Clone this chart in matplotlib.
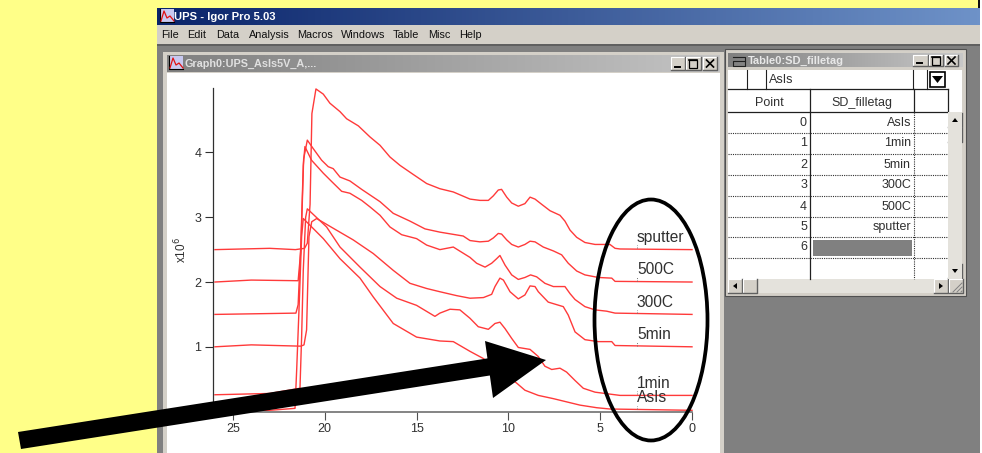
import matplotlib
matplotlib.use('Agg')
import matplotlib.pyplot as plt
import numpy as np
from matplotlib.patches import Ellipse, Polygon, Rectangle

plt.rcParams['font.family'] = ['Liberation Sans', 'DejaVu Sans']

W, H = 982, 453

# spectra (binding energy, counts / 1e6)
sputter_x = [25.98, 23.0, 21.6, 21.1, 20.95, 20.8, 20.7, 20.48, 20.08, 19.72, 19.17, 18.81, 18.17, 17.54, 16.99, 16.45, 15.9, 15.18, 14.45, 13.73, 13.0, 12.09, 11.55, 11.09, 10.82, 10.55, 10.37, 10.09, 9.82, 9.46, 9.1, 8.82, 8.55, 8.19, 7.73, 7.19, 6.92, 6.64, 6.28, 5.83, 5.28, 4.47, 4.19, 3.92, 0.0]
sputter_y = [2.5, 2.52, 2.5, 2.52, 2.6, 3.2, 4.6, 4.98, 4.9, 4.76, 4.63, 4.52, 4.41, 4.24, 4.11, 3.93, 3.8, 3.66, 3.52, 3.44, 3.39, 3.28, 3.26, 3.26, 3.33, 3.42, 3.43, 3.31, 3.22, 3.17, 3.21, 3.31, 3.28, 3.2, 3.1, 3.03, 2.94, 2.8, 2.69, 2.61, 2.58, 2.58, 2.52, 2.51, 2.5]

c500_x = [25.98, 24.0, 21.45, 21.3, 21.15, 20.95, 20.63, 20.17, 19.81, 19.54, 19.17, 18.63, 17.99, 16.99, 16.27, 15.36, 14.54, 13.73, 12.46, 12.09, 11.55, 11.09, 10.82, 10.55, 10.37, 10.09, 9.82, 9.46, 9.1, 8.82, 8.55, 8.1, 7.55, 7.1, 6.74, 6.28, 5.83, 5.1, 4.37, 4.19, 0.0]
c500_y = [2.0, 2.03, 2.02, 2.5, 3.9, 4.19, 4.06, 3.88, 3.78, 3.75, 3.62, 3.56, 3.43, 3.24, 3.06, 2.94, 2.82, 2.77, 2.71, 2.64, 2.62, 2.63, 2.68, 2.75, 2.74, 2.65, 2.58, 2.54, 2.58, 2.63, 2.62, 2.54, 2.48, 2.42, 2.29, 2.17, 2.11, 2.07, 2.06, 2.01, 2.0]

c300_x = [25.98, 21.57, 21.45, 21.3, 21.17, 21.08, 20.72, 20.08, 19.62, 19.08, 18.63, 17.99, 17.54, 16.99, 16.45, 15.81, 15.0, 14.45, 13.73, 13.0, 12.09, 11.73, 11.27, 10.91, 10.64, 10.46, 10.18, 9.82, 9.46, 9.1, 8.79, 8.46, 8.01, 7.55, 6.92, 6.64, 6.37, 5.83, 5.28, 4.65, 4.19, 0.0]
c300_y = [1.5, 1.52, 1.65, 2.6, 3.8, 4.09, 3.88, 3.68, 3.55, 3.4, 3.37, 3.26, 3.16, 3.03, 2.85, 2.73, 2.67, 2.57, 2.5, 2.54, 2.38, 2.29, 2.23, 2.29, 2.36, 2.41, 2.26, 2.11, 2.04, 2.07, 2.11, 2.08, 1.98, 1.93, 1.93, 1.82, 1.73, 1.62, 1.57, 1.55, 1.52, 1.5]

min5_x = [25.98, 24.0, 21.3, 21.13, 20.99, 20.86, 20.71, 20.44, 19.54, 18.45, 17.36, 16.27, 15.36, 14.45, 13.73, 12.82, 12.09, 11.36, 10.91, 10.73, 10.46, 10.27, 9.91, 9.46, 9.1, 8.82, 8.55, 8.37, 7.83, 7.01, 6.74, 6.37, 5.83, 5.1, 4.37, 4.19, 0.0]
min5_y = [1.0, 1.03, 1.01, 1.03, 1.26, 2.7, 2.93, 2.98, 2.83, 2.65, 2.44, 2.18, 1.98, 1.9, 1.85, 1.79, 1.75, 1.76, 1.81, 1.93, 2.06, 2.03, 1.85, 1.74, 1.8, 1.94, 1.93, 1.85, 1.69, 1.62, 1.49, 1.23, 1.11, 1.08, 1.08, 1.02, 1.0]

min1_x = [25.98, 23.0, 21.35, 21.26, 21.17, 21.04, 20.95, 19.9, 19.17, 18.08, 16.99, 16.08, 15.0, 14.0, 13.73, 13.18, 12.64, 12.09, 11.64, 11.09, 10.73, 10.46, 10.18, 9.82, 9.46, 8.82, 8.37, 8.01, 7.64, 7.19, 6.83, 6.37, 5.92, 5.28, 4.47, 3.92, 0.0]
min1_y = [0.26, 0.28, 0.36, 1.15, 2.18, 3.0, 3.13, 2.85, 2.54, 2.23, 1.93, 1.75, 1.64, 1.47, 1.52, 1.58, 1.57, 1.44, 1.31, 1.27, 1.36, 1.38, 1.28, 1.13, 0.99, 0.96, 0.85, 0.7, 0.65, 0.67, 0.61, 0.48, 0.36, 0.3, 0.27, 0.25, 0.25]

asis_x = [25.98, 23.0, 21.62, 21.53, 21.39, 21.26, 21.17, 20.08, 19.17, 18.08, 17.36, 16.27, 15.0, 13.73, 13.0, 12.09, 11.37, 9.55, 9.1, 8.37, 7.55, 6.1, 5.19, 4.47, 0.0]
asis_y = [0.02, 0.02, 0.05, 0.64, 1.67, 2.7, 2.98, 2.67, 2.36, 2.06, 1.77, 1.36, 1.15, 1.09, 1.08, 0.93, 0.82, 0.44, 0.33, 0.25, 0.2, 0.1, 0.06, 0.04, 0.02]

curve_labels = ['sputter', '500C', '300C', '5min', '1min', 'AsIs']
curve_bases = [2.5, 2.0, 1.5, 1.0, 0.25, 0.02]

x_ticks = [25, 20, 15, 10, 5, 0]
y_ticks = [1, 2, 3, 4]

menu_items = ['File', 'Edit', 'Data', 'Analysis', 'Macros', 'Windows', 'Table', 'Misc', 'Help']
menu_left = [161, 187, 216, 249, 297, 341, 393, 428, 459]

table_points = ['0', '1', '2', '3', '4', '5', '6']
table_tags = ['AsIs', '1min', '5min', '300C', '500C', 'sputter', '']
row_edges = [112, 133, 154, 175, 196, 217, 237, 258]

TXT = '#303030'


def rect(ax, x0, y0, x1, y1, fc, ec='none', lw=0, z=1):
    ax.add_patch(Rectangle((x0, y0), x1 - x0, y1 - y0, fc=fc, ec=ec, lw=lw, zorder=z))


def gradient(ax, x0, y0, x1, y1, c0, c1, z=1):
    c0 = np.array(matplotlib.colors.to_rgb(c0))
    c1 = np.array(matplotlib.colors.to_rgb(c1))
    t = np.linspace(0, 1, 256)[None, :, None]
    ax.imshow(c0 + (c1 - c0) * t, extent=(x0, x1, y1, y0), aspect='auto', zorder=z)
    ax.set_xlim(0, W)
    ax.set_ylim(H, 0)


def button(ax, x0, y0, x1, y1, glyph=None):
    # win2k style bevel: light top/left, dark bottom/right
    rect(ax, x0, y0, x1, y1, '#d4d0c8', z=3)
    ax.plot([x0, x0, x1], [y1, y0, y0], color='white', lw=0.8, zorder=3.5)
    ax.plot([x0, x1, x1], [y1, y1, y0], color='#606060', lw=1.0, zorder=3.5)
    cx, cy = (x0 + x1) / 2, (y0 + y1) / 2
    if glyph == 'min':
        ax.plot([cx - 3, cx + 2], [y1 - 3, y1 - 3], color='black', lw=1.4, zorder=4)
    elif glyph == 'max':
        rect(ax, cx - 4, cy - 4, cx + 4, cy + 4, 'none', ec='black', lw=0.9, z=4)
        ax.plot([cx - 4, cx + 4], [cy - 3.5, cy - 3.5], color='black', lw=1.2, zorder=4)
    elif glyph == 'close':
        ax.plot([cx - 3.5, cx + 3.5], [cy - 3.5, cy + 3.5], color='black', lw=1.2, zorder=4)
        ax.plot([cx - 3.5, cx + 3.5], [cy + 3.5, cy - 3.5], color='black', lw=1.2, zorder=4)
    elif glyph in ('up', 'down', 'left', 'right'):
        d = {'up': [(-3, 2), (3, 2), (0, -2)], 'down': [(-3, -2), (3, -2), (0, 2)],
             'left': [(2, -3), (2, 3), (-2, 0)], 'right': [(-2, -3), (-2, 3), (2, 0)]}[glyph]
        ax.add_patch(Polygon([(cx + a, cy + b) for a, b in d], fc='black', ec='none', zorder=4))


def graph_icon(ax, x0, y0):
    rect(ax, x0, y0, x0 + 14, y0 + 14, '#c8c8f0', z=3)
    ax.plot([x0, x0, x0 + 14], [y0, y0 + 13, y0 + 13], color='black', lw=0.8, zorder=4)
    ax.plot([x0 + 1, x0 + 4, x0 + 7, x0 + 10, x0 + 14], [y0 + 12, y0 + 2, y0 + 9, y0 + 7, y0 + 12],
            color='#e01010', lw=0.9, zorder=4)


fig = plt.figure(figsize=(W / 100, H / 100), dpi=100, facecolor='white')

# screenshot chrome behind the plot
bg = fig.add_axes([0, 0, 1, 1], zorder=0)
bg.set_xlim(0, W)
bg.set_ylim(H, 0)
bg.axis('off')

rect(bg, 0, 0, 980, 8, '#ffff88')
rect(bg, 978, 0, 980, 8, '#101010', z=2)
rect(bg, 0, 8, 157, H, '#ffff88')
rect(bg, 157, 8, 980, H, '#808080')
gradient(bg, 157, 8, 980, 25, '#0a246a', '#6e92c8', z=2)
rect(bg, 157, 25, 980, 44, '#d4d0c8', z=2)
rect(bg, 157, 44, 980, 46, '#606060', z=2)

# main window title and menu
graph_icon(bg, 160, 9)
bg.text(174.5, 17, 'UPS - Igor Pro 5.03', color='white', fontsize=8.1, fontweight='bold', va='center', zorder=5)
for item, left in zip(menu_items, menu_left):
    bg.text(left, 35, item, color='#101010', fontsize=7.8, va='center', zorder=5)

# graph window
rect(bg, 163, 52, 724, H, '#d4d0c8', z=2)
gradient(bg, 167, 55, 720, 72, '#808080', '#c4c4c4', z=3)
rect(bg, 167, 73, 720, H, 'white', z=3)
graph_icon(bg, 169, 56)
bg.text(185, 64, 'Graph0:UPS_AsIs5V_A,...', color='#e0e0e0', fontsize=7.8, fontweight='bold', va='center', zorder=5)
button(bg, 671, 57, 685, 70, 'min')
button(bg, 686, 57, 701, 70, 'max')
button(bg, 703, 57, 717, 70, 'close')

# table window
rect(bg, 725, 49, 966, 296, '#d4d0c8', ec='#505050', lw=0.8, z=2)
gradient(bg, 728, 53, 963, 67, '#808080', '#c8c8c8', z=3)
rect(bg, 728, 70, 962, 279, 'white', z=3)
bg.plot([733, 745, 745, 733, 733, 745], [57, 57, 66, 66, 61, 61], color='#202020', lw=0.8, zorder=4)
bg.text(748, 61, 'Table0:SD_filletag', color='#e8e8e8', fontsize=8, fontweight='bold', va='center', zorder=5)
button(bg, 913, 55, 928, 66, 'min')
button(bg, 929, 55, 943, 66, 'max')
button(bg, 945, 55, 958, 66, 'close')

for xv in [747, 766, 913, 927]:
    bg.plot([xv, xv], [70, 89], color='#202020', lw=0.8, zorder=4)
rect(bg, 930, 72, 945, 87, 'white', ec='black', lw=1.2, z=4)
bg.add_patch(Polygon([(932, 76), (943, 76), (937.5, 83)], fc='black', ec='none', zorder=5))
bg.text(769, 80, 'AsIs', color=TXT, fontsize=9, va='center', zorder=5)

bg.plot([728, 948], [89, 89], color='#202020', lw=0.9, zorder=4)
bg.plot([728, 948], [112, 112], color='#202020', lw=0.9, zorder=4)
bg.plot([810, 810], [89, 279], color='#202020', lw=0.9, zorder=4)
bg.plot([914, 914], [89, 112], color='#202020', lw=0.9, zorder=4)
bg.plot([914, 914], [112, 279], color='#303030', lw=0.8, ls=(0, (1, 1)), zorder=4)
bg.plot([948, 948], [89, 112], color='#202020', lw=0.9, zorder=4)
bg.text(769, 103, 'Point', color=TXT, fontsize=9, ha='center', va='center', zorder=5)
bg.text(862, 103, 'SD_filletag', color=TXT, fontsize=9, ha='center', va='center', zorder=5)

for i, (pt, tag) in enumerate(zip(table_points, table_tags)):
    y_mid = (row_edges[i] + row_edges[i + 1]) / 2
    bg.plot([728, 948], [row_edges[i + 1], row_edges[i + 1]], color='#303030', lw=0.8, ls=(0, (1, 1)), zorder=4)
    bg.text(807, y_mid, pt, color=TXT, fontsize=9, ha='right', va='center', zorder=5)
    if tag:
        bg.text(911, y_mid, tag, color=TXT, fontsize=9, ha='right', va='center', zorder=5)
rect(bg, 813, 240, 912, 256, '#808080', z=5)

# scrollbars
rect(bg, 948, 112, 962, 279, '#e4e2dc', z=4)
rect(bg, 728, 279, 948, 293, '#e4e2dc', z=2.9)
button(bg, 948, 113, 962, 127, 'up')
button(bg, 948, 128, 962, 142)
button(bg, 948, 264, 962, 278, 'down')
button(bg, 728, 279, 742, 293, 'left')
button(bg, 743, 279, 757, 293)
button(bg, 934, 279, 948, 293, 'right')
button(bg, 949, 279, 963, 293)
for off in [0, 4, 8]:
    bg.plot([953 + off, 962], [292, 283 + off], color='#808080', lw=0.7, zorder=5)

# the spectra, own axes so ticks and curves use real data coordinates
left, right, bottom, top = 213.3, 692.0, 411.6, 88.3
ax = fig.add_axes([left / W, 1 - bottom / H, (right - left) / W, (bottom - top) / H], zorder=1)
ax.patch.set_alpha(0)
ax.set_xlim(26.07, 0)
ax.set_ylim(0, 4.99)

curves = [(sputter_x, sputter_y), (c500_x, c500_y), (c300_x, c300_y),
          (min5_x, min5_y), (min1_x, min1_y), (asis_x, asis_y)]
for cx, cy in curves:
    ax.plot(cx, cy, color='#ff3a3a', lw=1.0, clip_on=False)

for label, base in zip(curve_labels, curve_bases):
    ax.text(3.0, base + 0.19, label, color=TXT, fontsize=11.2, ha='left', va='center')
    ax.plot([3.0, 3.0], [base + 0.02, base + 0.07], color='#707070', lw=0.7, ls=(0, (1, 1.5)))

for side in ['top', 'right']:
    ax.spines[side].set_visible(False)
ax.spines['left'].set_color('#303030')
ax.spines['left'].set_linewidth(0.9)
ax.spines['bottom'].set_color('#707070')
ax.spines['bottom'].set_linewidth(1.2)
ax.set_xticks(x_ticks)
ax.set_yticks(y_ticks)
ax.tick_params(axis='x', length=5.5, width=0.8, color='#505050', labelcolor=TXT, labelsize=9, pad=3)
ax.tick_params(axis='y', length=5.5, width=0.8, color='#303030', labelcolor=TXT, labelsize=9, pad=3)
ax.set_ylabel(r'x10$^{6}$', color=TXT, fontsize=8.5, labelpad=3.5)

# hand-drawn annotation on top of everything
over = fig.add_axes([0, 0, 1, 1], zorder=2)
over.set_xlim(0, W)
over.set_ylim(H, 0)
over.axis('off')
over.add_patch(Polygon([(18, 432), (490, 358), (493, 375), (21, 449)], fc='black', ec='none'))
over.add_patch(Polygon([(485, 341), (493, 398), (546, 360)], fc='black', ec='none'))
over.add_patch(Ellipse((651, 320), 113, 241, fc='none', ec='black', lw=2.7))

fig.savefig('out.png', dpi=100)
